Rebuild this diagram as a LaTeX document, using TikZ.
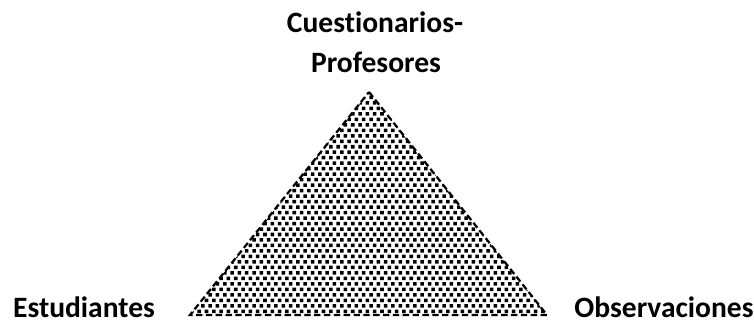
\documentclass[tikz,border=0pt]{standalone}
\usepackage{fontspec}
\setmainfont[Ligatures=NoCommon]{Carlito}
\usetikzlibrary{patterns}

% puntos cuadrados escalonados
\pgfdeclarepatternformonly{squaredots}{\pgfqpoint{-1pt}{-1pt}}{\pgfqpoint{6pt}{9pt}}{\pgfqpoint{5.2pt}{7.8pt}}{%
  \pgfpathrectangle{\pgfqpoint{0pt}{0pt}}{\pgfqpoint{2.5pt}{2.5pt}}%
  \pgfpathrectangle{\pgfqpoint{2.6pt}{3.9pt}}{\pgfqpoint{2.5pt}{2.5pt}}%
  \pgfusepath{fill}%
}

\begin{document}
\begin{tikzpicture}[
    x=0.025cm, y=-0.025cm,
    font=\fontsize{21}{25}\selectfont\bfseries,
    % Estilos
    vertex label/.style={anchor=base, inner sep=0pt},
    triangle fill/.style={
        pattern=squaredots,
        draw=black,
        line width=1.6pt,
        dash pattern=on 4.5pt off 2.5pt,
        line join=miter
    }
]
\useasboundingbox (0,0) rectangle (754,324);

% --- VERTICES DEL TRIANGULO ---
\coordinate (top) at (369,92);
\coordinate (left) at (190,315);
\coordinate (right) at (547,315);

% --- TRIANGULO ---
\path[triangle fill] (top) -- (right) -- (left) -- cycle;

% --- ETIQUETAS ---
\node[vertex label] (cuest) at (375,32) {Cuestionarios-};
\node[vertex label] (prof) at (376,72) {Profesores};
\node[vertex label] (est) at (84,317) {Estudiantes};
\node[vertex label] (obs) at (664,317) {Observaciones};

\end{tikzpicture}
\end{document}
